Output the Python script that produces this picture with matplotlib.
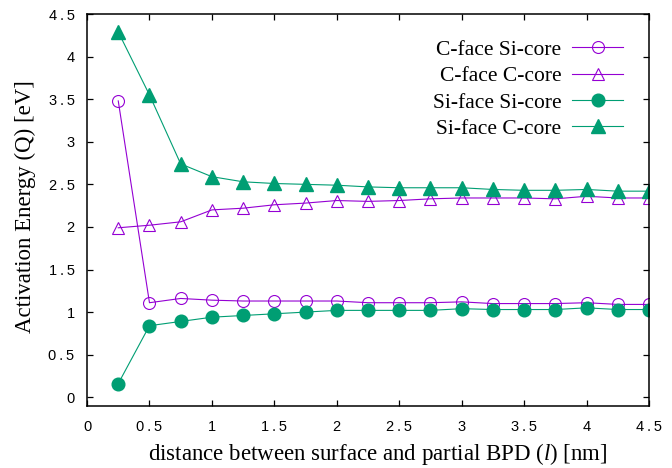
import numpy as np
import matplotlib
matplotlib.use("Agg")
import matplotlib.pyplot as plt

plt.rcParams['mathtext.fontset'] = 'custom'
plt.rcParams['mathtext.rm'] = 'Liberation Serif'
plt.rcParams['mathtext.it'] = 'Liberation Serif:italic'

# distance l [nm]
dist = [0.25, 0.5, 0.75, 1.0, 1.25, 1.5, 1.75, 2.0, 2.25, 2.5, 2.75,
        3.0, 3.25, 3.5, 3.75, 4.0, 4.25, 4.5]

cface_sicore = [3.48, 1.11, 1.16, 1.14, 1.13, 1.13, 1.13, 1.13, 1.11, 1.11, 1.11,
                1.12, 1.10, 1.10, 1.10, 1.11, 1.09, 1.09]
cface_ccore = [1.99, 2.02, 2.06, 2.20, 2.22, 2.26, 2.28, 2.31, 2.30, 2.31, 2.33,
               2.34, 2.34, 2.34, 2.33, 2.36, 2.34, 2.34]
siface_sicore = [0.16, 0.84, 0.89, 0.94, 0.96, 0.98, 1.00, 1.02, 1.02, 1.02, 1.02,
                 1.04, 1.03, 1.03, 1.03, 1.05, 1.03, 1.03]
siface_ccore = [4.29, 3.55, 2.74, 2.59, 2.53, 2.51, 2.50, 2.49, 2.47, 2.46, 2.46,
                2.46, 2.44, 2.43, 2.43, 2.44, 2.42, 2.42]

xticks = [0, 0.5, 1, 1.5, 2, 2.5, 3, 3.5, 4, 4.5]
yticks = [0, 0.5, 1, 1.5, 2, 2.5, 3, 3.5, 4, 4.5]

purple = '#9400d3'
green = '#009e73'


def spaced(v):
    # gnuplot-like wide tick labels
    return '\u2009'.join('%g' % v)


fig = plt.figure(figsize=(6.72, 4.68), dpi=100)
ax = fig.add_axes([0.1295, 0.133, 0.8363, 0.837])

ax.plot(dist, cface_sicore, color=purple, lw=0.8, marker='o', ms=8.6,
        mfc='none', mew=0.8, label='C-face Si-core')
ax.plot(dist, cface_ccore, color=purple, lw=0.8, marker='^', ms=8.6,
        mfc='none', mew=0.8, label='C-face C-core')
ax.plot(dist, siface_sicore, color=green, lw=0.8, marker='o', ms=9.1,
        label='Si-face Si-core')
ax.plot(dist, siface_ccore, color=green, lw=0.8, marker='^', ms=9.6,
        label='Si-face C-core')

ax.set_xlim(0, 4.5)
ax.set_ylim(-0.1, 4.5)
ax.set_xticks(xticks)
ax.set_yticks(yticks)
ax.set_xticklabels([spaced(t) for t in xticks], family='Liberation Sans')
ax.set_yticklabels([spaced(t) for t in yticks], family='Liberation Sans')
ax.tick_params(direction='in', top=True, right=True, length=4.5, width=0.9,
               labelsize=10.5, pad=9)
ax.tick_params(axis='x', pad=10.5)
for s in ax.spines.values():
    s.set_linewidth(1.1)

ax.set_xlabel(r'distance between surface and partial BPD ($\mathit{l}$) [nm]',
              family='Liberation Serif', fontsize=16.5)
ax.xaxis.set_label_coords(0.5 + 10 / 562, -0.09)
ax.set_ylabel('Activation Energy (Q) [eV]', family='Liberation Serif',
              fontsize=16.5)
ax.yaxis.set_label_coords(-0.09, 0.5 + 3.5 / 392)

ax.legend(loc='upper right', frameon=False, markerfirst=False,
          prop={'family': 'Liberation Serif', 'size': 15.5},
          handlelength=2.37, labelspacing=0.29, borderaxespad=0.8,
          handletextpad=0.5)

fig.savefig('out.png', dpi=100)
